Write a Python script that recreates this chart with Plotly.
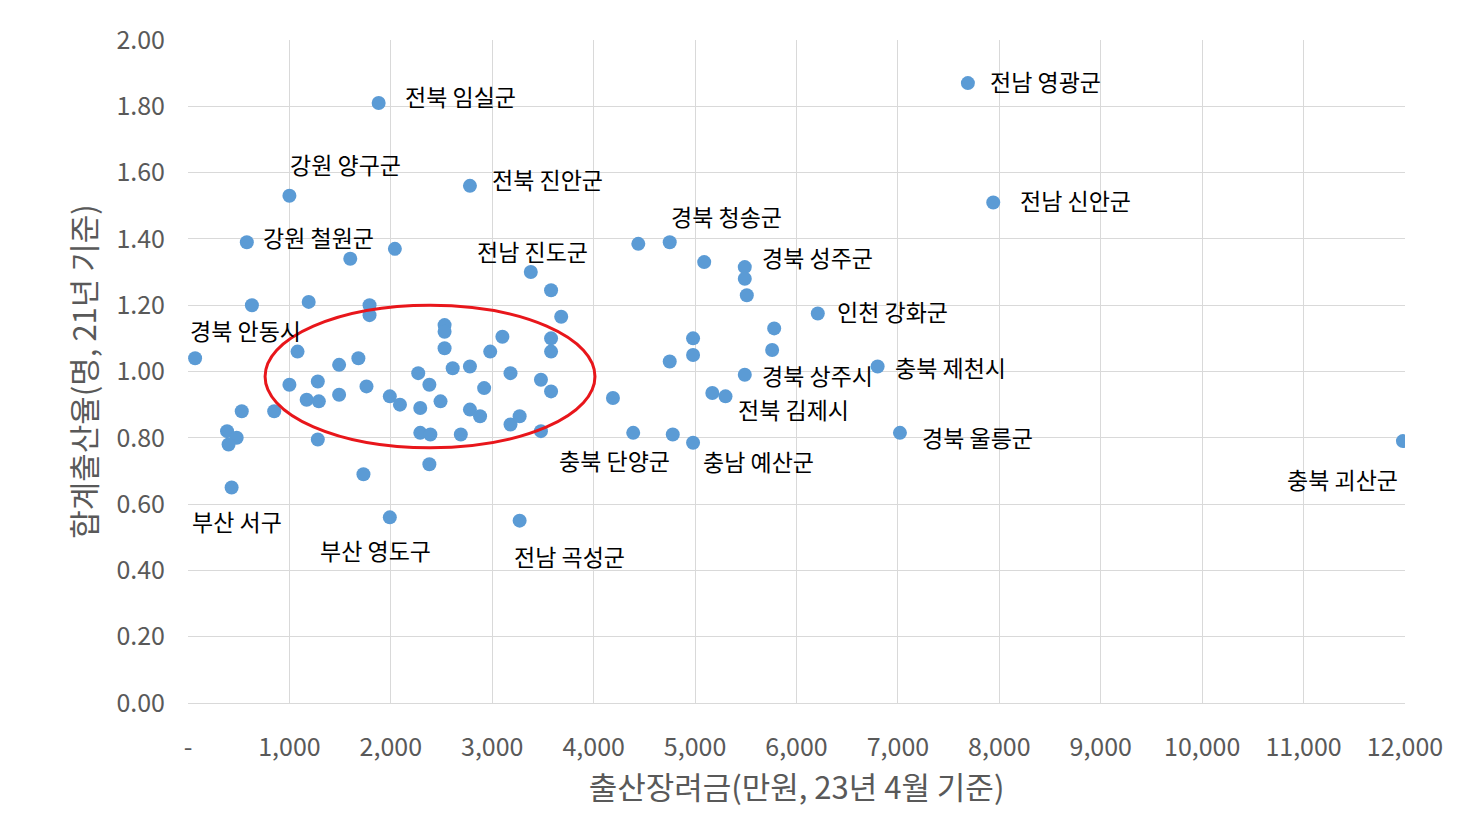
import plotly.graph_objects as go

incentive = [70,580,1000,1880,2780,7690,7940,630,1190,1600,2040,1790,1790,1080,1000,530,850,385,480,400,430,
    1170,1280,1290,1280,1490,1490,1680,1760,1730,1990,2090,1990,2270,2290,2380,2290,2390,2380,2490,2530,2530,2530,
    2610,2780,2780,2880,2690,2920,2980,3100,3180,3180,3270,3270,3380,3580,3680,3580,3580,3480,3580,3480,4190,4390,
    4440,4750,4750,4780,4980,4980,4980,5090,5490,5490,5510,5490,5170,5300,5780,5760,6210,6800,7020,11980]
tfr = [1.04,1.39,1.53,1.81,1.56,1.87,1.51,1.20,1.21,1.34,1.37,1.20,1.17,1.06,0.96,0.88,0.88,0.82,0.80,0.78,0.65,
    0.915,0.97,0.91,0.795,0.93,1.02,1.04,0.955,0.69,0.925,0.90,0.56,0.995,0.89,0.96,0.815,0.81,0.72,0.91,1.14,1.12,1.07,
    1.01,1.015,0.885,0.865,0.81,0.95,1.06,1.105,0.995,0.84,0.865,0.55,1.30,1.245,1.165,1.10,1.06,0.975,0.94,0.82,0.92,0.815,
    1.385,1.39,1.03,0.81,1.10,1.05,0.785,1.33,1.315,1.28,1.23,0.99,0.935,0.925,1.13,1.065,1.175,1.015,0.815,0.79]

# label, point index, xanchor, xshift, yshift
labels = [("전북 임실군",3,"left",24,7),("강원 양구군",2,"center",56,32),("강원 철원군",1,"left",14,5),
    ("전북 진안군",4,"left",20,7),("전남 영광군",5,"left",20,2),("전남 신안군",6,"left",25,2),
    ("경북 청송군",66,"center",57,26),("전남 진도군",55,"center",2,21),("경북 성주군",73,"left",15,10),
    ("인천 강화군",81,"left",17,2),("경북 안동시",0,"left",-7,28),("충북 제천시",82,"left",15,0),
    ("경북 상주시",76,"left",15,0),("전북 김제시",78,"left",10,-13),("경북 울릉군",83,"left",20,-4),
    ("충북 단양군",64,"center",-19,-27),("충남 예산군",71,"center",65,-18),("충북 괴산군",84,"right",-3,-38),
    ("부산 서구",20,"left",-42,-33),("부산 영도구",32,"center",-14,-33),("전남 곡성군",54,"center",50,-35)]

xticks = list(range(0,12001,1000))
xtext = ["-"] + [f"{v:,}" for v in xticks[1:]]
yticks = [i/10 for i in range(0,21,2)]
ytext = [f"{v:.2f}" for v in yticks]

fig = go.Figure(go.Scatter(x=incentive, y=tfr, mode="markers",
    marker=dict(color="#5B9BD5", size=14), hoverinfo="skip"))
for t,i,xa,dx,dy in labels:
    fig.add_annotation(x=incentive[i], y=tfr[i], text=t, showarrow=False, xanchor=xa, yanchor="middle",
        xshift=dx, yshift=dy, font=dict(size=23, color="#000"))
fig.add_shape(type="circle", x0=760, x1=4013, y0=0.77, y1=1.20, line=dict(color="#E8161B", width=3))
F = "Noto Sans CJK KR"
fig.update_layout(width=1484, height=837, paper_bgcolor="white", plot_bgcolor="white",
    margin=dict(l=180, r=87, t=24, b=142), showlegend=False, font=dict(family=F, color="#595959"),
    xaxis=dict(range=[0,12000], tickvals=xticks, ticktext=xtext, showgrid=True, gridcolor="#D9D9D9",
        tickfont=dict(size=25), zeroline=False, showline=True, linecolor="#D9D9D9", ticklen=0,
        ticklabelstandoff=22,
        title=dict(text="출산장려금(만원, 23년 4월 기준)", font=dict(size=31), standoff=10)),
    yaxis=dict(range=[0,2.0], tickvals=yticks, ticktext=ytext, showgrid=True, gridcolor="#D9D9D9",
        tickfont=dict(size=25), zeroline=False, ticklen=0, ticklabelstandoff=22,
        title=dict(text="합계출산율(명, 21년 기준)", font=dict(size=31), standoff=10)))
fig.write_html("out.html")
